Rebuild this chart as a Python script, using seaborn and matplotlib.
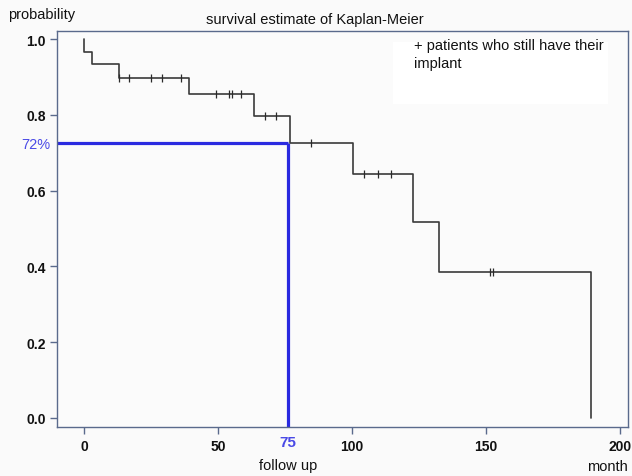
import matplotlib
matplotlib.use("Agg")
import matplotlib.pyplot as plt
import seaborn as sns
import pandas as pd

# Kaplan-Meier step curve (time in months, survival probability)
step_times = [0, 0, 3.1, 13.2, 39.3, 63.4, 76.7, 100.3, 122.6, 132.6, 189.3]
step_surv = [1.0, 0.965, 0.934, 0.897, 0.855, 0.798, 0.725, 0.644, 0.516, 0.3865, 0.0]

# censored observations (patients who still have their implant)
censor_times = [13.2, 16.9, 25.0, 29.2, 36.2, 49.3, 54.2, 55.3, 58.5, 67.4, 71.6,
                84.8, 104.6, 109.6, 114.6, 151.6, 152.7]
censor_surv = [0.897, 0.897, 0.897, 0.897, 0.897, 0.855, 0.855, 0.855, 0.855, 0.798, 0.798,
               0.725, 0.644, 0.644, 0.644, 0.3865, 0.3865]

# highlighted reading
mark_time = [76.3]
mark_surv = [0.725]
mark_time_label = "75"
mark_surv_label = "72%"

x_ticks = [0, 50, 100, 150, 200]
y_ticks = [0.0, 0.2, 0.4, 0.6, 0.8, 1.0]

sns.set_theme(style="white")
plt.rcParams['font.family'] = ['Liberation Sans', 'DejaVu Sans']

fig = plt.figure(figsize=(6.32, 4.77), dpi=100, facecolor="#fafafa")
ax = fig.add_axes([0.0897, 0.1034, 0.904, 0.8301])
ax.set_facecolor("#fbfbfb")

df_step = pd.DataFrame({"t": step_times, "s": step_surv})
df_cens = pd.DataFrame({"t": censor_times, "s": censor_surv})

xmin, xmax = -10.2, 203.0
ymin, ymax = -0.023, 1.022

# blue reading lines
ax.plot([xmin, mark_time[0]], [mark_surv[0], mark_surv[0]], color="#2a2ae0", lw=2.3,
        solid_capstyle="butt", zorder=2)
ax.plot([mark_time[0], mark_time[0]], [ymin, mark_surv[0]], color="#2a2ae0", lw=2.3,
        solid_capstyle="butt", zorder=2)

sns.lineplot(data=df_step, x="t", y="s", drawstyle="steps-post", estimator=None,
             sort=False, color="#3a3a3a", lw=1.2, ax=ax, zorder=3)
sns.scatterplot(data=df_cens, x="t", y="s", marker="|", s=30, color="#2a2a2a",
                linewidth=0.9, ax=ax, zorder=4)

ax.set_xlim(xmin, xmax)
ax.set_ylim(ymin, ymax)
ax.set_xticks(x_ticks)
ax.set_yticks(y_ticks)
ax.set_xticklabels([str(v) for v in x_ticks], fontsize=10, fontweight="bold", color="#111111")
ax.set_yticklabels([f"{v:.1f}" for v in y_ticks], fontsize=10, fontweight="bold", color="#111111")
ax.set_xlabel("")
ax.set_ylabel("")

frame_c = "#5a6a8c"
for sp in ax.spines.values():
    sp.set_color(frame_c)
    sp.set_linewidth(1.0)
ax.tick_params(axis="both", which="major", direction="out", length=5, width=1.0,
               color=frame_c, left=True, bottom=True)
ax.tick_params(axis="x", pad=4)
ax.tick_params(axis="y", pad=3)

# texts
fig.text(8 / 632, 1 - 15 / 477, "probability", fontsize=10.5, ha="left", va="center", color="#111111")
fig.text(315 / 632, 1 - 20 / 477, "survival estimate of Kaplan-Meier", fontsize=10.5,
         ha="center", va="center", color="#111111")
fig.text(288 / 632, 1 - 466 / 477, "follow up", fontsize=10.5, ha="center", va="center", color="#111111")
fig.text(607 / 632, 1 - 467 / 477, "month", fontsize=10.5, ha="center", va="center", color="#111111")
fig.text(36 / 632, 1 - 145 / 477, mark_surv_label, fontsize=10.5, ha="center", va="center", color="#4a4ae6")
fig.text(288 / 632, 1 - 443 / 477, mark_time_label, fontsize=11, fontweight="bold",
         ha="center", va="center", color="#4a4ae6")

ax.add_patch(plt.Rectangle((393 / 632, 1 - 105 / 477), 215 / 632, 62 / 477,
                           transform=fig.transFigure, facecolor="white", edgecolor="none", zorder=1))
fig.text(414 / 632, 1 - 55 / 477, "+ patients who still have their\nimplant", fontsize=10.5,
         ha="left", va="center", linespacing=1.45, color="#111111")

fig.savefig("out.png", dpi=100, facecolor=fig.get_facecolor())
